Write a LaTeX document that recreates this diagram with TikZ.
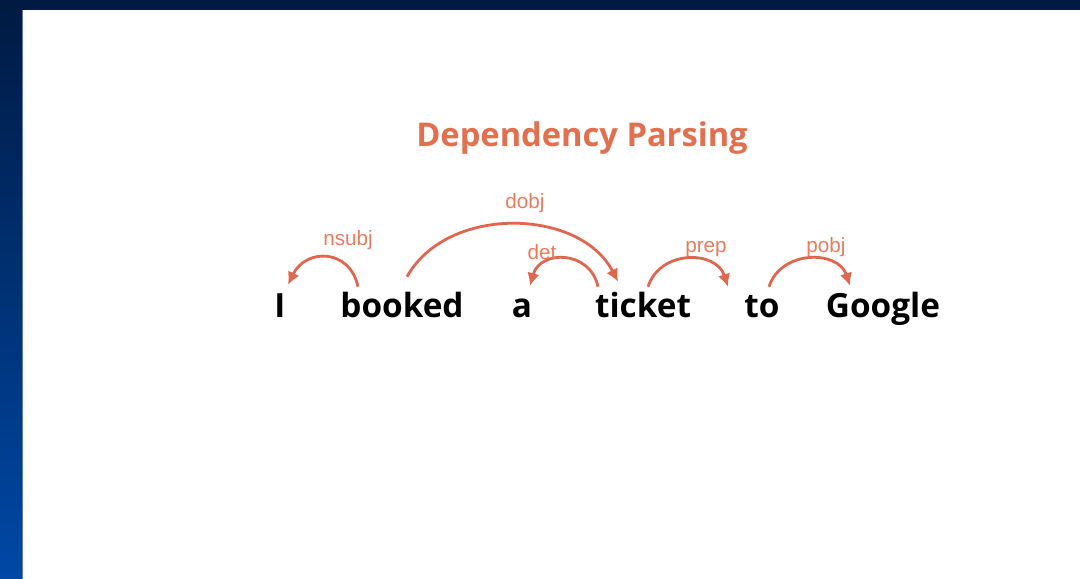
\documentclass[tikz,border=0pt]{standalone}
\usepackage{fontspec}
\setmainfont{Open Sans}
\newfontfamily\labelfont{Liberation Sans}
\usetikzlibrary{arrows.meta,calc}

\definecolor{frametop}{HTML}{001A42}
\definecolor{framebottom}{HTML}{0048A6}
\definecolor{frameedge}{HTML}{5A78B0}
\definecolor{titlec}{HTML}{E2704F}
\definecolor{arcc}{HTML}{E0674F}
\definecolor{labelc}{HTML}{E87D5E}

\tikzset{
  word/.style={font=\bfseries\fontsize{25}{30}\selectfont, text=black,
    inner sep=0pt, anchor=base, text height=19.5pt, text depth=0pt},
  deplabel/.style={font=\labelfont\fontsize{15.5}{18}\selectfont,
    text=labelc, inner sep=0pt, anchor=base},
  deparc/.style={draw=arcc, line width=2.1pt,
    -{Latex[length=9.5pt,width=9.5pt]}},
  slidetitle/.style={font=\bfseries\fontsize{24.5}{29}\selectfont, text=titlec,
    inner sep=0pt, anchor=base}
}

\begin{document}
\begin{tikzpicture}[x=0.75pt,y=-0.75pt]
  \useasboundingbox (0,0) rectangle (1080,578);
  % slide frame
  \fill[white] (0,0) rectangle (1080,578);
  \shade[top color=frametop, bottom color=framebottom] (0,0) rectangle (22.5,578);
  \fill[frametop] (0,0) rectangle (1080,10);
  \draw[frameedge, line width=0.6pt] (22.5,10) -- (22.5,578);

  % title
  \node[slidetitle] (title) at (582,146) {Dependency Parsing};

  % sentence
  \node[word] (w1) at (280,317) {I};
  \node[word] (w2) at (402,317) {booked};
  \node[word] (w3) at (522,317) {a};
  \node[word] (w4) at (643,317) {ticket};
  \node[word] (w5) at (762,317) {to};
  \node[word] (w6) at (883,317) {Google};

  % dependency arcs
  \draw[deparc] ($(w2.north)+(-44,-4)$) .. controls +(-8,-38) and +(18,-37) .. ($(w1.north)+(8,-6)$);
  \draw[deparc] ($(w2.north)+(5,-14)$) .. controls +(40,-72) and +(-38,-74) .. ($(w4.north)+(-25,-9)$);
  \draw[deparc] ($(w4.north)+(-45,-4)$) .. controls +(-8,-37) and +(10,-36) .. ($(w3.north)+(8,-5)$);
  \draw[deparc] ($(w4.north)+(5,-4)$) .. controls +(12,-37) and +(-12,-37) .. ($(w5.north)+(-34,-4)$);
  \draw[deparc] ($(w5.north)+(7,-4)$) .. controls +(12,-37) and +(-12,-36) .. ($(w6.north)+(-33,-5)$);

  % relation labels
  \node[deplabel] (l1) at (348,245) {nsubj};
  \node[deplabel] (l2) at (525,208) {dobj};
  \node[deplabel] (l3) at (542,259) {det};
  \node[deplabel] (l4) at (706,252) {prep};
  \node[deplabel] (l5) at (826,252) {pobj};
\end{tikzpicture}
\end{document}
